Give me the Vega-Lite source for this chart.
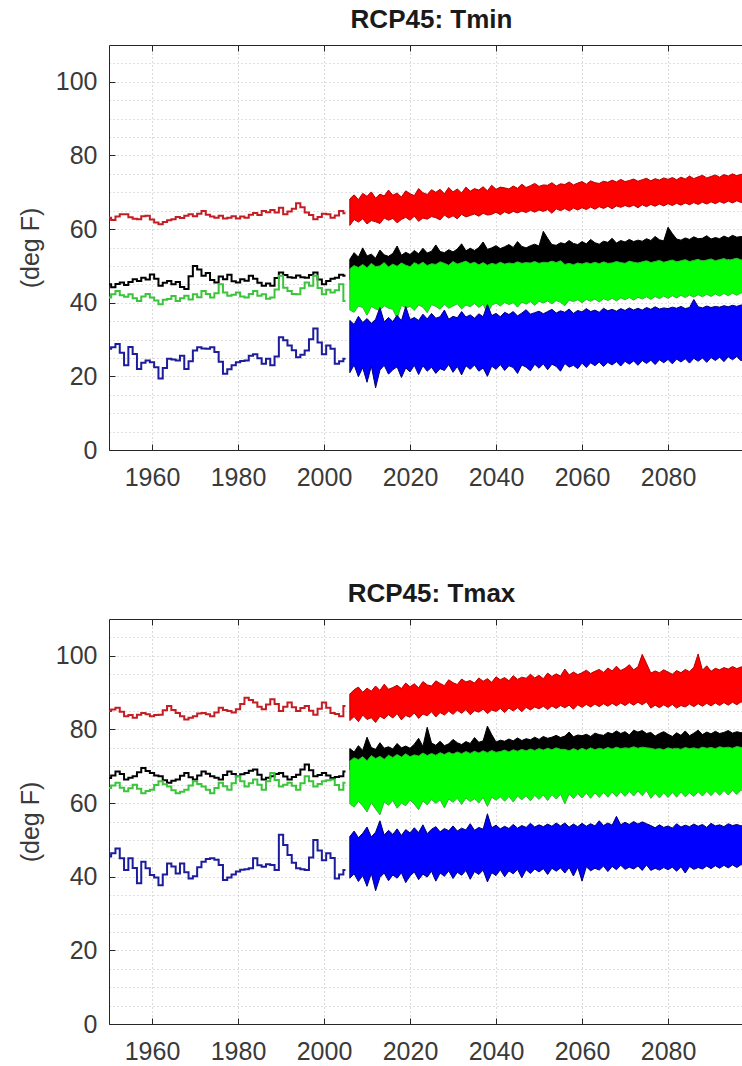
{
"$schema": "https://vega.github.io/schema/vega-lite/v6.json",
"background": "white",
"autosize": {"type": "pad"},
"padding": {"left": 18, "top": 6, "right": 0, "bottom": 0},
"spacing": 90,
"config": {
 "view": {"stroke": null},
 "font": "Liberation Sans",
 "axis": {"labelFont": "Liberation Sans", "labelFontSize": 25, "labelColor": "#3a3a3a", "domainColor": "#262626", "tickColor": "#262626", "titleFont": "Liberation Sans", "titleFontWeight": "normal", "titleFontSize": 25, "titleColor": "#3a3a3a", "labelOverlap": false, "labelFlush": false}
},
"datasets": {
"hist": [
{"panel":"Tmin","year":1950,"red":63.1,"black":45.0,"green":41.4,"blue":27.5},
{"panel":"Tmin","year":1951,"red":62.5,"black":44.2,"green":42.3,"blue":27.9},
{"panel":"Tmin","year":1952,"red":63.4,"black":45.1,"green":43.2,"blue":28.8},
{"panel":"Tmin","year":1953,"red":64.0,"black":45.5,"green":42.0,"blue":26.4},
{"panel":"Tmin","year":1954,"red":64.0,"black":44.8,"green":41.6,"blue":23.0},
{"panel":"Tmin","year":1955,"red":63.2,"black":45.6,"green":42.3,"blue":28.0},
{"panel":"Tmin","year":1956,"red":62.8,"black":46.4,"green":41.2,"blue":26.1},
{"panel":"Tmin","year":1957,"red":62.7,"black":45.9,"green":40.5,"blue":22.0},
{"panel":"Tmin","year":1958,"red":63.5,"black":46.8,"green":41.7,"blue":23.7},
{"panel":"Tmin","year":1959,"red":63.6,"black":46.3,"green":42.4,"blue":24.3},
{"panel":"Tmin","year":1960,"red":62.6,"black":47.7,"green":41.4,"blue":23.8},
{"panel":"Tmin","year":1961,"red":61.8,"black":46.5,"green":40.6,"blue":22.5},
{"panel":"Tmin","year":1962,"red":61.3,"black":44.6,"green":39.6,"blue":19.4},
{"panel":"Tmin","year":1963,"red":61.9,"black":45.4,"green":40.8,"blue":22.3},
{"panel":"Tmin","year":1964,"red":62.4,"black":45.9,"green":41.0,"blue":24.8},
{"panel":"Tmin","year":1965,"red":62.7,"black":45.0,"green":41.8,"blue":24.6},
{"panel":"Tmin","year":1966,"red":63.3,"black":45.6,"green":40.5,"blue":24.3},
{"panel":"Tmin","year":1967,"red":63.0,"black":44.3,"green":41.2,"blue":25.6},
{"panel":"Tmin","year":1968,"red":63.6,"black":43.7,"green":41.9,"blue":22.0},
{"panel":"Tmin","year":1969,"red":64.0,"black":47.2,"green":40.9,"blue":24.1},
{"panel":"Tmin","year":1970,"red":63.5,"black":50.0,"green":42.3,"blue":27.0},
{"panel":"Tmin","year":1971,"red":64.2,"black":49.0,"green":41.5,"blue":27.9},
{"panel":"Tmin","year":1972,"red":64.9,"black":47.3,"green":43.2,"blue":27.6},
{"panel":"Tmin","year":1973,"red":63.9,"black":48.1,"green":42.4,"blue":27.5},
{"panel":"Tmin","year":1974,"red":63.4,"black":46.2,"green":41.4,"blue":27.9},
{"panel":"Tmin","year":1975,"red":63.1,"black":45.5,"green":42.6,"blue":26.6},
{"panel":"Tmin","year":1976,"red":63.6,"black":47.1,"green":45.0,"blue":24.0},
{"panel":"Tmin","year":1977,"red":62.9,"black":46.4,"green":42.8,"blue":20.7},
{"panel":"Tmin","year":1978,"red":63.1,"black":47.6,"green":41.9,"blue":21.9},
{"panel":"Tmin","year":1979,"red":63.5,"black":45.8,"green":42.2,"blue":23.0},
{"panel":"Tmin","year":1980,"red":62.9,"black":45.5,"green":42.8,"blue":23.8},
{"panel":"Tmin","year":1981,"red":63.4,"black":46.4,"green":41.7,"blue":24.2},
{"panel":"Tmin","year":1982,"red":63.1,"black":46.0,"green":41.4,"blue":24.3},
{"panel":"Tmin","year":1983,"red":63.9,"black":47.3,"green":42.4,"blue":25.6},
{"panel":"Tmin","year":1984,"red":64.4,"black":46.5,"green":43.2,"blue":26.0},
{"panel":"Tmin","year":1985,"red":63.8,"black":45.4,"green":41.9,"blue":24.9},
{"panel":"Tmin","year":1986,"red":64.9,"black":44.6,"green":42.3,"blue":23.4},
{"panel":"Tmin","year":1987,"red":64.6,"black":45.2,"green":41.1,"blue":24.8},
{"panel":"Tmin","year":1988,"red":65.2,"black":44.6,"green":41.4,"blue":23.0},
{"panel":"Tmin","year":1989,"red":64.5,"black":46.7,"green":43.6,"blue":25.4},
{"panel":"Tmin","year":1990,"red":65.8,"black":48.2,"green":47.3,"blue":30.6},
{"panel":"Tmin","year":1991,"red":64.0,"black":47.5,"green":44.1,"blue":29.8},
{"panel":"Tmin","year":1992,"red":64.8,"black":46.9,"green":43.2,"blue":28.4},
{"panel":"Tmin","year":1993,"red":65.5,"black":46.8,"green":42.4,"blue":27.1},
{"panel":"Tmin","year":1994,"red":67.0,"black":47.4,"green":42.3,"blue":25.2},
{"panel":"Tmin","year":1995,"red":65.9,"black":46.9,"green":43.9,"blue":25.9},
{"panel":"Tmin","year":1996,"red":64.5,"black":46.8,"green":45.5,"blue":27.0},
{"panel":"Tmin","year":1997,"red":63.8,"black":47.5,"green":44.6,"blue":30.1},
{"panel":"Tmin","year":1998,"red":62.7,"black":48.2,"green":47.3,"blue":33.0},
{"panel":"Tmin","year":1999,"red":63.3,"black":46.3,"green":44.0,"blue":29.2},
{"panel":"Tmin","year":2000,"red":64.2,"black":45.0,"green":42.3,"blue":26.0},
{"panel":"Tmin","year":2001,"red":64.0,"black":45.9,"green":43.5,"blue":28.4},
{"panel":"Tmin","year":2002,"red":63.1,"black":46.5,"green":42.8,"blue":27.5},
{"panel":"Tmin","year":2003,"red":63.7,"black":46.8,"green":43.4,"blue":23.4},
{"panel":"Tmin","year":2004,"red":64.9,"black":47.6,"green":45.0,"blue":24.1},
{"panel":"Tmin","year":2005,"red":64.3,"black":47.3,"green":40.5,"blue":24.8},
{"panel":"Tmax","year":1950,"red":85.0,"black":66.8,"green":64.1,"blue":45.5},
{"panel":"Tmax","year":1951,"red":85.4,"black":67.5,"green":64.8,"blue":46.4},
{"panel":"Tmax","year":1952,"red":85.9,"black":68.6,"green":65.5,"blue":47.7},
{"panel":"Tmax","year":1953,"red":84.8,"black":67.9,"green":64.2,"blue":45.0},
{"panel":"Tmax","year":1954,"red":83.6,"black":66.4,"green":63.2,"blue":41.8},
{"panel":"Tmax","year":1955,"red":83.9,"black":66.9,"green":64.0,"blue":45.0},
{"panel":"Tmax","year":1956,"red":83.2,"black":67.3,"green":65.0,"blue":42.4},
{"panel":"Tmax","year":1957,"red":84.0,"black":68.4,"green":63.9,"blue":38.2},
{"panel":"Tmax","year":1958,"red":84.5,"black":69.5,"green":62.7,"blue":44.1},
{"panel":"Tmax","year":1959,"red":84.1,"black":68.7,"green":63.3,"blue":42.3},
{"panel":"Tmax","year":1960,"red":83.6,"black":68.2,"green":63.6,"blue":40.5},
{"panel":"Tmax","year":1961,"red":83.9,"black":67.5,"green":64.9,"blue":39.8},
{"panel":"Tmax","year":1962,"red":84.0,"black":67.3,"green":65.9,"blue":37.7},
{"panel":"Tmax","year":1963,"red":85.2,"black":66.2,"green":65.1,"blue":40.6},
{"panel":"Tmax","year":1964,"red":86.4,"black":65.5,"green":64.5,"blue":43.6},
{"panel":"Tmax","year":1965,"red":85.3,"black":66.1,"green":63.5,"blue":42.8},
{"panel":"Tmax","year":1966,"red":84.5,"black":66.4,"green":62.7,"blue":40.9},
{"panel":"Tmax","year":1967,"red":83.6,"black":67.4,"green":63.1,"blue":43.6},
{"panel":"Tmax","year":1968,"red":82.7,"black":68.2,"green":63.6,"blue":41.2},
{"panel":"Tmax","year":1969,"red":83.2,"black":67.0,"green":64.8,"blue":39.5},
{"panel":"Tmax","year":1970,"red":83.6,"black":66.4,"green":65.9,"blue":40.1},
{"panel":"Tmax","year":1971,"red":84.3,"black":67.5,"green":65.2,"blue":42.6},
{"panel":"Tmax","year":1972,"red":84.5,"black":68.6,"green":64.5,"blue":44.1},
{"panel":"Tmax","year":1973,"red":84.1,"black":68.0,"green":63.6,"blue":44.8},
{"panel":"Tmax","year":1974,"red":83.6,"black":67.3,"green":62.7,"blue":45.0},
{"panel":"Tmax","year":1975,"red":84.6,"black":66.9,"green":64.1,"blue":44.6},
{"panel":"Tmax","year":1976,"red":85.9,"black":66.4,"green":65.5,"blue":43.2},
{"panel":"Tmax","year":1977,"red":85.3,"black":67.6,"green":64.6,"blue":39.1},
{"panel":"Tmax","year":1978,"red":85.0,"black":68.6,"green":63.6,"blue":39.8},
{"panel":"Tmax","year":1979,"red":84.6,"black":67.9,"green":65.4,"blue":40.6},
{"panel":"Tmax","year":1980,"red":85.5,"black":67.3,"green":67.3,"blue":41.4},
{"panel":"Tmax","year":1981,"red":86.9,"black":67.8,"green":65.9,"blue":41.9},
{"panel":"Tmax","year":1982,"red":88.6,"black":68.2,"green":64.5,"blue":42.0},
{"panel":"Tmax","year":1983,"red":88.0,"black":68.8,"green":65.4,"blue":42.3},
{"panel":"Tmax","year":1984,"red":87.3,"black":69.1,"green":66.4,"blue":45.0},
{"panel":"Tmax","year":1985,"red":86.2,"black":67.7,"green":65.0,"blue":43.1},
{"panel":"Tmax","year":1986,"red":85.5,"black":66.4,"green":63.6,"blue":42.7},
{"panel":"Tmax","year":1987,"red":86.8,"black":66.9,"green":65.9,"blue":43.4},
{"panel":"Tmax","year":1988,"red":88.2,"black":67.3,"green":68.2,"blue":43.2},
{"panel":"Tmax","year":1989,"red":86.9,"black":67.9,"green":66.3,"blue":41.8},
{"panel":"Tmax","year":1990,"red":85.0,"black":68.2,"green":64.5,"blue":51.4},
{"panel":"Tmax","year":1991,"red":86.2,"black":67.2,"green":65.0,"blue":48.6},
{"panel":"Tmax","year":1992,"red":87.3,"black":66.4,"green":65.5,"blue":45.9},
{"panel":"Tmax","year":1993,"red":86.0,"black":67.1,"green":64.7,"blue":43.8},
{"panel":"Tmax","year":1994,"red":85.0,"black":67.7,"green":63.6,"blue":42.3},
{"panel":"Tmax","year":1995,"red":85.8,"black":69.1,"green":65.4,"blue":42.0},
{"panel":"Tmax","year":1996,"red":86.4,"black":70.5,"green":67.3,"blue":41.8},
{"panel":"Tmax","year":1997,"red":85.1,"black":68.9,"green":65.9,"blue":45.2},
{"panel":"Tmax","year":1998,"red":84.0,"black":67.3,"green":64.5,"blue":50.0},
{"panel":"Tmax","year":1999,"red":85.6,"black":67.6,"green":65.2,"blue":47.1},
{"panel":"Tmax","year":2000,"red":87.3,"black":68.2,"green":65.9,"blue":44.5},
{"panel":"Tmax","year":2001,"red":85.9,"black":67.5,"green":66.2,"blue":46.4},
{"panel":"Tmax","year":2002,"red":84.5,"black":66.8,"green":66.4,"blue":45.1},
{"panel":"Tmax","year":2003,"red":84.2,"black":67.1,"green":64.9,"blue":39.5},
{"panel":"Tmax","year":2004,"red":83.6,"black":67.3,"green":63.6,"blue":40.6},
{"panel":"Tmax","year":2005,"red":86.4,"black":68.6,"green":65.5,"blue":41.8}
],
"fut": [
{"panel":"Tmin","year":2006,"rlo":61.0,"rhi":68.2,"klo":46.3,"khi":51.8,"glo":38.0,"ghi":49.2,"blo":21.0,"bhi":35.2},
{"panel":"Tmin","year":2007,"rlo":62.6,"rhi":69.3,"klo":46.9,"khi":53.6,"glo":37.4,"ghi":50.1,"blo":23.1,"bhi":34.1},
{"panel":"Tmin","year":2008,"rlo":61.9,"rhi":68.0,"klo":46.5,"khi":52.4,"glo":39.1,"ghi":49.6,"blo":19.9,"bhi":36.3},
{"panel":"Tmin","year":2009,"rlo":62.8,"rhi":69.7,"klo":47.2,"khi":54.9,"glo":38.7,"ghi":50.4,"blo":22.4,"bhi":34.6},
{"panel":"Tmin","year":2010,"rlo":61.4,"rhi":68.9,"klo":46.0,"khi":52.7,"glo":36.6,"ghi":49.5,"blo":18.4,"bhi":35.7},
{"panel":"Tmin","year":2011,"rlo":62.3,"rhi":70.1,"klo":46.8,"khi":53.2,"glo":39.0,"ghi":50.7,"blo":22.8,"bhi":34.4},
{"panel":"Tmin","year":2012,"rlo":62.0,"rhi":68.4,"klo":46.6,"khi":52.1,"glo":38.3,"ghi":49.8,"blo":16.9,"bhi":35.5},
{"panel":"Tmin","year":2013,"rlo":61.5,"rhi":69.5,"klo":47.4,"khi":54.3,"glo":37.9,"ghi":50.0,"blo":21.7,"bhi":38.7},
{"panel":"Tmin","year":2014,"rlo":63.0,"rhi":69.0,"klo":46.7,"khi":53.0,"glo":39.2,"ghi":50.9,"blo":23.0,"bhi":34.8},
{"panel":"Tmin","year":2015,"rlo":62.4,"rhi":70.6,"klo":47.0,"khi":52.6,"glo":38.5,"ghi":49.7,"blo":20.6,"bhi":36.0},
{"panel":"Tmin","year":2016,"rlo":62.9,"rhi":69.2,"klo":46.9,"khi":53.4,"glo":38.2,"ghi":50.5,"blo":21.8,"bhi":34.9},
{"panel":"Tmin","year":2017,"rlo":61.7,"rhi":69.8,"klo":47.3,"khi":55.4,"glo":35.7,"ghi":49.9,"blo":22.6,"bhi":36.6},
{"panel":"Tmin","year":2018,"rlo":62.6,"rhi":68.7,"klo":46.8,"khi":52.9,"glo":39.3,"ghi":50.8,"blo":19.7,"bhi":35.1},
{"panel":"Tmin","year":2019,"rlo":63.2,"rhi":70.4,"klo":47.5,"khi":53.7,"glo":38.6,"ghi":50.2,"blo":22.3,"bhi":39.0},
{"panel":"Tmin","year":2020,"rlo":62.4,"rhi":69.6,"klo":47.1,"khi":53.1,"glo":39.0,"ghi":49.8,"blo":21.2,"bhi":35.4},
{"panel":"Tmin","year":2021,"rlo":63.5,"rhi":69.1,"klo":47.8,"khi":54.2,"glo":37.9,"ghi":50.9,"blo":23.0,"bhi":36.0},
{"panel":"Tmin","year":2022,"rlo":62.1,"rhi":71.0,"klo":47.2,"khi":53.3,"glo":39.4,"ghi":50.3,"blo":20.5,"bhi":35.2},
{"panel":"Tmin","year":2023,"rlo":63.0,"rhi":69.9,"klo":47.6,"khi":54.8,"glo":38.8,"ghi":51.0,"blo":22.9,"bhi":36.9},
{"panel":"Tmin","year":2024,"rlo":62.7,"rhi":69.4,"klo":47.0,"khi":53.5,"glo":37.3,"ghi":50.1,"blo":21.4,"bhi":35.6},
{"panel":"Tmin","year":2025,"rlo":63.4,"rhi":70.7,"klo":47.9,"khi":54.0,"glo":39.5,"ghi":50.6,"blo":22.5,"bhi":37.1},
{"panel":"Tmin","year":2026,"rlo":63.1,"rhi":70.0,"klo":47.5,"khi":55.7,"glo":39.0,"ghi":50.4,"blo":20.8,"bhi":35.8},
{"panel":"Tmin","year":2027,"rlo":62.5,"rhi":70.8,"klo":48.0,"khi":53.9,"glo":38.2,"ghi":51.1,"blo":22.1,"bhi":36.2},
{"panel":"Tmin","year":2028,"rlo":63.8,"rhi":69.6,"klo":47.6,"khi":53.6,"glo":39.6,"ghi":50.7,"blo":21.6,"bhi":38.0},
{"panel":"Tmin","year":2029,"rlo":63.0,"rhi":71.3,"klo":48.2,"khi":54.4,"glo":38.5,"ghi":50.2,"blo":23.2,"bhi":35.5},
{"panel":"Tmin","year":2030,"rlo":63.6,"rhi":70.1,"klo":47.7,"khi":53.8,"glo":39.1,"ghi":51.2,"blo":21.1,"bhi":36.3},
{"panel":"Tmin","year":2031,"rlo":62.8,"rhi":70.9,"klo":48.4,"khi":54.6,"glo":39.7,"ghi":50.5,"blo":22.7,"bhi":35.9},
{"panel":"Tmin","year":2032,"rlo":64.0,"rhi":69.8,"klo":47.9,"khi":56.0,"glo":38.3,"ghi":50.9,"blo":20.4,"bhi":37.6},
{"panel":"Tmin","year":2033,"rlo":63.3,"rhi":71.4,"klo":48.3,"khi":54.1,"glo":39.4,"ghi":51.3,"blo":22.9,"bhi":36.1},
{"panel":"Tmin","year":2034,"rlo":63.7,"rhi":70.3,"klo":48.6,"khi":54.8,"glo":38.9,"ghi":50.6,"blo":21.9,"bhi":36.7},
{"panel":"Tmin","year":2035,"rlo":64.1,"rhi":71.0,"klo":48.1,"khi":54.2,"glo":39.8,"ghi":51.0,"blo":23.1,"bhi":35.8},
{"panel":"Tmin","year":2036,"rlo":63.5,"rhi":70.6,"klo":48.7,"khi":55.0,"glo":38.7,"ghi":50.3,"blo":21.4,"bhi":37.0},
{"panel":"Tmin","year":2037,"rlo":64.3,"rhi":71.5,"klo":48.3,"khi":56.5,"glo":39.6,"ghi":50.9,"blo":22.3,"bhi":36.2},
{"panel":"Tmin","year":2038,"rlo":63.8,"rhi":70.4,"klo":48.8,"khi":54.5,"glo":37.0,"ghi":50.2,"blo":20.0,"bhi":39.5},
{"panel":"Tmin","year":2039,"rlo":64.0,"rhi":71.9,"klo":48.5,"khi":54.9,"glo":39.3,"ghi":50.7,"blo":22.8,"bhi":36.5},
{"panel":"Tmin","year":2040,"rlo":64.6,"rhi":70.8,"klo":49.0,"khi":55.5,"glo":39.9,"ghi":50.4,"blo":21.9,"bhi":37.1},
{"panel":"Tmin","year":2041,"rlo":63.9,"rhi":71.4,"klo":48.6,"khi":54.7,"glo":39.1,"ghi":51.0,"blo":23.2,"bhi":36.2},
{"panel":"Tmin","year":2042,"rlo":64.7,"rhi":71.2,"klo":49.1,"khi":55.2,"glo":40.1,"ghi":50.5,"blo":21.6,"bhi":37.4},
{"panel":"Tmin","year":2043,"rlo":64.2,"rhi":70.9,"klo":48.7,"khi":55.8,"glo":39.5,"ghi":50.8,"blo":22.9,"bhi":36.8},
{"panel":"Tmin","year":2044,"rlo":64.8,"rhi":71.7,"klo":49.2,"khi":55.0,"glo":40.0,"ghi":50.6,"blo":22.4,"bhi":37.6},
{"panel":"Tmin","year":2045,"rlo":64.4,"rhi":71.1,"klo":48.9,"khi":56.6,"glo":38.8,"ghi":51.1,"blo":20.8,"bhi":36.4},
{"panel":"Tmin","year":2046,"rlo":64.9,"rhi":72.2,"klo":49.3,"khi":55.3,"glo":40.2,"ghi":50.7,"blo":23.1,"bhi":37.2},
{"panel":"Tmin","year":2047,"rlo":64.5,"rhi":71.3,"klo":49.0,"khi":54.9,"glo":39.6,"ghi":50.9,"blo":22.5,"bhi":38.1},
{"panel":"Tmin","year":2048,"rlo":65.1,"rhi":71.8,"klo":49.4,"khi":55.5,"glo":40.3,"ghi":50.8,"blo":21.5,"bhi":36.9},
{"panel":"Tmin","year":2049,"rlo":64.6,"rhi":72.4,"klo":49.1,"khi":55.9,"glo":39.3,"ghi":51.2,"blo":23.3,"bhi":37.3},
{"panel":"Tmin","year":2050,"rlo":65.2,"rhi":71.6,"klo":49.6,"khi":55.4,"glo":40.4,"ghi":50.7,"blo":22.2,"bhi":37.7},
{"panel":"Tmin","year":2051,"rlo":64.8,"rhi":72.0,"klo":49.2,"khi":59.4,"glo":39.9,"ghi":51.0,"blo":23.4,"bhi":37.0},
{"panel":"Tmin","year":2052,"rlo":65.3,"rhi":71.9,"klo":49.7,"khi":57.5,"glo":40.5,"ghi":50.9,"blo":21.8,"bhi":37.6},
{"panel":"Tmin","year":2053,"rlo":64.3,"rhi":72.6,"klo":49.4,"khi":55.8,"glo":39.7,"ghi":51.3,"blo":23.3,"bhi":38.2},
{"panel":"Tmin","year":2054,"rlo":65.5,"rhi":71.7,"klo":49.8,"khi":55.6,"glo":40.6,"ghi":50.9,"blo":22.7,"bhi":37.2},
{"panel":"Tmin","year":2055,"rlo":65.0,"rhi":72.3,"klo":49.5,"khi":56.3,"glo":40.1,"ghi":51.4,"blo":21.4,"bhi":37.8},
{"panel":"Tmin","year":2056,"rlo":65.6,"rhi":72.1,"klo":50.0,"khi":56.0,"glo":39.2,"ghi":50.4,"blo":23.5,"bhi":37.4},
{"panel":"Tmin","year":2057,"rlo":64.9,"rhi":72.8,"klo":49.6,"khi":56.9,"glo":40.7,"ghi":50.7,"blo":22.5,"bhi":38.3},
{"panel":"Tmin","year":2058,"rlo":65.7,"rhi":72.0,"klo":50.1,"khi":56.1,"glo":40.3,"ghi":50.3,"blo":23.0,"bhi":37.1},
{"panel":"Tmin","year":2059,"rlo":65.2,"rhi":72.5,"klo":49.8,"khi":55.8,"glo":40.8,"ghi":50.8,"blo":22.1,"bhi":37.9},
{"panel":"Tmin","year":2060,"rlo":65.8,"rhi":72.9,"klo":50.2,"khi":56.6,"glo":40.0,"ghi":50.5,"blo":23.6,"bhi":37.5},
{"panel":"Tmin","year":2061,"rlo":65.3,"rhi":72.2,"klo":49.9,"khi":56.0,"glo":40.9,"ghi":50.9,"blo":22.4,"bhi":38.4},
{"panel":"Tmin","year":2062,"rlo":66.0,"rhi":73.1,"klo":50.3,"khi":57.2,"glo":40.4,"ghi":50.6,"blo":23.7,"bhi":37.6},
{"panel":"Tmin","year":2063,"rlo":65.4,"rhi":72.6,"klo":50.0,"khi":56.3,"glo":41.0,"ghi":51.0,"blo":22.9,"bhi":38.0},
{"panel":"Tmin","year":2064,"rlo":66.1,"rhi":72.4,"klo":50.4,"khi":55.9,"glo":40.2,"ghi":50.6,"blo":23.9,"bhi":37.4},
{"panel":"Tmin","year":2065,"rlo":65.6,"rhi":73.0,"klo":50.1,"khi":56.7,"glo":41.1,"ghi":51.1,"blo":22.7,"bhi":38.5},
{"panel":"Tmin","year":2066,"rlo":66.2,"rhi":72.7,"klo":50.5,"khi":56.4,"glo":40.6,"ghi":50.7,"blo":23.8,"bhi":37.8},
{"panel":"Tmin","year":2067,"rlo":65.5,"rhi":73.3,"klo":50.2,"khi":57.5,"glo":41.2,"ghi":50.8,"blo":23.1,"bhi":38.2},
{"panel":"Tmin","year":2068,"rlo":66.3,"rhi":72.8,"klo":50.6,"khi":56.2,"glo":40.5,"ghi":51.2,"blo":24.0,"bhi":37.7},
{"panel":"Tmin","year":2069,"rlo":65.9,"rhi":73.5,"klo":50.3,"khi":56.9,"glo":41.3,"ghi":50.9,"blo":22.8,"bhi":38.4},
{"panel":"Tmin","year":2070,"rlo":66.4,"rhi":72.9,"klo":50.7,"khi":56.5,"glo":40.8,"ghi":50.7,"blo":24.1,"bhi":37.9},
{"panel":"Tmin","year":2071,"rlo":66.0,"rhi":73.2,"klo":50.4,"khi":57.2,"glo":41.4,"ghi":51.3,"blo":23.3,"bhi":38.6},
{"panel":"Tmin","year":2072,"rlo":66.5,"rhi":73.6,"klo":50.8,"khi":56.6,"glo":40.7,"ghi":51.0,"blo":24.2,"bhi":38.0},
{"panel":"Tmin","year":2073,"rlo":65.8,"rhi":73.0,"klo":50.5,"khi":57.0,"glo":41.5,"ghi":50.8,"blo":23.0,"bhi":38.5},
{"panel":"Tmin","year":2074,"rlo":66.6,"rhi":73.4,"klo":50.9,"khi":56.7,"glo":41.0,"ghi":51.1,"blo":24.3,"bhi":38.0},
{"panel":"Tmin","year":2075,"rlo":66.1,"rhi":73.8,"klo":50.6,"khi":57.4,"glo":41.6,"ghi":51.4,"blo":23.5,"bhi":38.7},
{"panel":"Tmin","year":2076,"rlo":66.7,"rhi":73.1,"klo":51.0,"khi":56.9,"glo":40.9,"ghi":50.9,"blo":24.4,"bhi":38.2},
{"panel":"Tmin","year":2077,"rlo":66.2,"rhi":73.7,"klo":50.7,"khi":58.0,"glo":41.7,"ghi":51.2,"blo":23.2,"bhi":38.9},
{"panel":"Tmin","year":2078,"rlo":66.8,"rhi":73.3,"klo":51.1,"khi":57.1,"glo":41.1,"ghi":51.5,"blo":24.5,"bhi":38.3},
{"panel":"Tmin","year":2079,"rlo":66.3,"rhi":73.9,"klo":50.8,"khi":56.8,"glo":41.8,"ghi":51.0,"blo":23.7,"bhi":38.6},
{"panel":"Tmin","year":2080,"rlo":66.9,"rhi":73.5,"klo":51.2,"khi":60.5,"glo":41.2,"ghi":51.3,"blo":24.6,"bhi":38.4},
{"panel":"Tmin","year":2081,"rlo":66.4,"rhi":74.0,"klo":50.9,"khi":58.8,"glo":41.9,"ghi":51.6,"blo":23.4,"bhi":38.8},
{"panel":"Tmin","year":2082,"rlo":67.0,"rhi":73.4,"klo":51.3,"khi":57.3,"glo":41.3,"ghi":51.1,"blo":24.7,"bhi":38.5},
{"panel":"Tmin","year":2083,"rlo":66.5,"rhi":74.1,"klo":51.0,"khi":57.0,"glo":42.0,"ghi":51.4,"blo":23.9,"bhi":39.0},
{"panel":"Tmin","year":2084,"rlo":67.1,"rhi":73.6,"klo":51.4,"khi":57.6,"glo":41.4,"ghi":51.7,"blo":24.8,"bhi":38.4},
{"panel":"Tmin","year":2085,"rlo":66.6,"rhi":74.4,"klo":51.1,"khi":57.2,"glo":42.1,"ghi":51.2,"blo":23.6,"bhi":38.7},
{"panel":"Tmin","year":2086,"rlo":67.2,"rhi":73.7,"klo":51.5,"khi":57.9,"glo":41.5,"ghi":51.5,"blo":24.9,"bhi":40.9},
{"panel":"Tmin","year":2087,"rlo":66.7,"rhi":74.2,"klo":51.2,"khi":57.4,"glo":42.2,"ghi":51.8,"blo":24.1,"bhi":38.9},
{"panel":"Tmin","year":2088,"rlo":67.3,"rhi":74.6,"klo":51.6,"khi":57.5,"glo":41.6,"ghi":51.3,"blo":25.0,"bhi":38.6},
{"panel":"Tmin","year":2089,"rlo":66.8,"rhi":73.9,"klo":51.3,"khi":58.2,"glo":42.3,"ghi":51.6,"blo":23.8,"bhi":39.1},
{"panel":"Tmin","year":2090,"rlo":67.4,"rhi":74.3,"klo":51.7,"khi":57.3,"glo":41.7,"ghi":51.9,"blo":25.1,"bhi":38.7},
{"panel":"Tmin","year":2091,"rlo":66.9,"rhi":74.7,"klo":51.4,"khi":57.7,"glo":42.4,"ghi":51.4,"blo":24.3,"bhi":39.0},
{"panel":"Tmin","year":2092,"rlo":67.5,"rhi":74.1,"klo":51.8,"khi":57.4,"glo":41.8,"ghi":51.7,"blo":25.2,"bhi":38.8},
{"panel":"Tmin","year":2093,"rlo":67.0,"rhi":74.8,"klo":51.5,"khi":58.1,"glo":42.5,"ghi":52.0,"blo":24.0,"bhi":39.2},
{"panel":"Tmin","year":2094,"rlo":67.6,"rhi":74.4,"klo":51.9,"khi":57.6,"glo":41.9,"ghi":51.5,"blo":25.3,"bhi":38.9},
{"panel":"Tmin","year":2095,"rlo":67.1,"rhi":75.0,"klo":51.6,"khi":58.3,"glo":42.6,"ghi":51.8,"blo":24.5,"bhi":39.3},
{"panel":"Tmin","year":2096,"rlo":67.7,"rhi":74.5,"klo":52.0,"khi":57.8,"glo":42.0,"ghi":52.1,"blo":25.4,"bhi":39.0},
{"panel":"Tmin","year":2097,"rlo":67.2,"rhi":74.9,"klo":51.7,"khi":58.0,"glo":42.7,"ghi":51.6,"blo":24.2,"bhi":39.4},
{"panel":"Tmin","year":2098,"rlo":67.8,"rhi":74.6,"klo":52.1,"khi":57.7,"glo":42.1,"ghi":51.9,"blo":25.5,"bhi":39.1},
{"panel":"Tmin","year":2099,"rlo":67.3,"rhi":75.1,"klo":51.8,"khi":58.4,"glo":42.8,"ghi":52.2,"blo":24.6,"bhi":39.5},
{"panel":"Tmin","year":2100,"rlo":67.9,"rhi":74.7,"klo":52.2,"khi":57.9,"glo":42.2,"ghi":51.7,"blo":25.6,"bhi":39.2},
{"panel":"Tmax","year":2006,"rlo":82.4,"rhi":89.6,"klo":69.0,"khi":74.8,"glo":59.8,"ghi":71.4,"blo":39.6,"bhi":50.9},
{"panel":"Tmax","year":2007,"rlo":83.5,"rhi":90.8,"klo":69.6,"khi":73.9,"glo":58.9,"ghi":72.3,"blo":40.8,"bhi":52.4},
{"panel":"Tmax","year":2008,"rlo":82.1,"rhi":91.5,"klo":68.8,"khi":75.6,"glo":60.5,"ghi":71.8,"blo":38.7,"bhi":50.6},
{"panel":"Tmax","year":2009,"rlo":83.9,"rhi":90.1,"klo":69.4,"khi":74.3,"glo":59.2,"ghi":72.6,"blo":40.3,"bhi":51.8},
{"panel":"Tmax","year":2010,"rlo":82.7,"rhi":91.2,"klo":69.1,"khi":77.9,"glo":57.6,"ghi":71.5,"blo":37.4,"bhi":53.5},
{"panel":"Tmax","year":2011,"rlo":83.2,"rhi":90.4,"klo":69.8,"khi":75.1,"glo":60.1,"ghi":72.9,"blo":40.9,"bhi":50.8},
{"panel":"Tmax","year":2012,"rlo":81.9,"rhi":91.8,"klo":69.3,"khi":74.6,"glo":58.4,"ghi":72.1,"blo":36.2,"bhi":52.1},
{"panel":"Tmax","year":2013,"rlo":83.6,"rhi":90.6,"klo":70.0,"khi":76.4,"glo":56.8,"ghi":72.7,"blo":39.8,"bhi":55.2},
{"panel":"Tmax","year":2014,"rlo":82.9,"rhi":92.3,"klo":69.5,"khi":74.9,"glo":60.3,"ghi":71.9,"blo":41.0,"bhi":51.3},
{"panel":"Tmax","year":2015,"rlo":84.0,"rhi":90.9,"klo":70.2,"khi":75.3,"glo":59.4,"ghi":73.0,"blo":38.9,"bhi":52.6},
{"panel":"Tmax","year":2016,"rlo":83.1,"rhi":91.4,"klo":69.7,"khi":74.7,"glo":60.7,"ghi":72.4,"blo":40.5,"bhi":51.5},
{"panel":"Tmax","year":2017,"rlo":84.3,"rhi":92.0,"klo":70.4,"khi":76.2,"glo":58.6,"ghi":73.2,"blo":39.6,"bhi":53.0},
{"panel":"Tmax","year":2018,"rlo":82.6,"rhi":91.1,"klo":69.9,"khi":75.0,"glo":60.0,"ghi":72.5,"blo":41.1,"bhi":51.2},
{"panel":"Tmax","year":2019,"rlo":83.8,"rhi":92.6,"klo":70.5,"khi":75.5,"glo":59.3,"ghi":73.4,"blo":38.4,"bhi":52.8},
{"panel":"Tmax","year":2020,"rlo":83.3,"rhi":91.6,"klo":70.1,"khi":74.9,"glo":60.8,"ghi":72.6,"blo":40.2,"bhi":51.9},
{"panel":"Tmax","year":2021,"rlo":84.5,"rhi":92.4,"klo":70.7,"khi":76.0,"glo":59.7,"ghi":73.1,"blo":41.3,"bhi":53.3},
{"panel":"Tmax","year":2022,"rlo":83.0,"rhi":91.3,"klo":70.3,"khi":77.6,"glo":58.2,"ghi":72.8,"blo":39.2,"bhi":52.0},
{"panel":"Tmax","year":2023,"rlo":84.2,"rhi":93.0,"klo":70.8,"khi":75.4,"glo":60.6,"ghi":73.6,"blo":40.7,"bhi":54.1},
{"panel":"Tmax","year":2024,"rlo":83.7,"rhi":92.1,"klo":70.4,"khi":80.6,"glo":59.5,"ghi":72.9,"blo":39.9,"bhi":51.7},
{"panel":"Tmax","year":2025,"rlo":84.8,"rhi":91.8,"klo":71.0,"khi":76.3,"glo":61.0,"ghi":73.5,"blo":41.5,"bhi":52.9},
{"panel":"Tmax","year":2026,"rlo":83.4,"rhi":93.2,"klo":70.6,"khi":75.7,"glo":59.9,"ghi":73.0,"blo":38.8,"bhi":53.6},
{"panel":"Tmax","year":2027,"rlo":84.6,"rhi":92.5,"klo":71.1,"khi":76.8,"glo":60.9,"ghi":73.7,"blo":41.0,"bhi":52.2},
{"panel":"Tmax","year":2028,"rlo":83.9,"rhi":91.9,"klo":70.7,"khi":75.6,"glo":58.7,"ghi":73.2,"blo":40.1,"bhi":53.1},
{"panel":"Tmax","year":2029,"rlo":85.0,"rhi":93.5,"klo":71.2,"khi":76.1,"glo":61.1,"ghi":73.8,"blo":41.6,"bhi":52.5},
{"panel":"Tmax","year":2030,"rlo":84.1,"rhi":92.7,"klo":70.9,"khi":77.3,"glo":60.2,"ghi":73.3,"blo":39.5,"bhi":53.8},
{"panel":"Tmax","year":2031,"rlo":85.2,"rhi":92.2,"klo":71.4,"khi":76.4,"glo":61.3,"ghi":73.9,"blo":41.2,"bhi":52.4},
{"panel":"Tmax","year":2032,"rlo":84.4,"rhi":93.7,"klo":71.0,"khi":75.9,"glo":59.6,"ghi":73.4,"blo":40.4,"bhi":53.2},
{"panel":"Tmax","year":2033,"rlo":85.4,"rhi":92.9,"klo":71.5,"khi":76.7,"glo":61.4,"ghi":74.0,"blo":41.7,"bhi":52.7},
{"panel":"Tmax","year":2034,"rlo":84.0,"rhi":93.3,"klo":71.1,"khi":76.2,"glo":60.4,"ghi":73.5,"blo":39.3,"bhi":54.4},
{"panel":"Tmax","year":2035,"rlo":85.1,"rhi":92.6,"klo":71.6,"khi":77.8,"glo":61.2,"ghi":74.1,"blo":41.4,"bhi":52.6},
{"panel":"Tmax","year":2036,"rlo":84.7,"rhi":94.0,"klo":71.2,"khi":76.5,"glo":60.0,"ghi":73.6,"blo":40.6,"bhi":53.4},
{"panel":"Tmax","year":2037,"rlo":85.5,"rhi":93.1,"klo":71.7,"khi":76.9,"glo":61.5,"ghi":74.2,"blo":41.8,"bhi":52.9},
{"panel":"Tmax","year":2038,"rlo":84.3,"rhi":93.8,"klo":71.3,"khi":80.9,"glo":59.1,"ghi":73.7,"blo":38.6,"bhi":57.1},
{"panel":"Tmax","year":2039,"rlo":85.3,"rhi":92.8,"klo":71.8,"khi":78.6,"glo":61.6,"ghi":74.3,"blo":41.1,"bhi":53.3},
{"panel":"Tmax","year":2040,"rlo":84.9,"rhi":94.3,"klo":71.4,"khi":76.6,"glo":60.8,"ghi":73.8,"blo":40.3,"bhi":54.0},
{"panel":"Tmax","year":2041,"rlo":85.7,"rhi":93.5,"klo":71.9,"khi":77.1,"glo":61.7,"ghi":74.0,"blo":41.9,"bhi":53.0},
{"panel":"Tmax","year":2042,"rlo":84.6,"rhi":94.1,"klo":71.5,"khi":76.8,"glo":60.5,"ghi":74.4,"blo":40.0,"bhi":53.7},
{"panel":"Tmax","year":2043,"rlo":85.8,"rhi":93.2,"klo":72.0,"khi":77.4,"glo":61.8,"ghi":73.9,"blo":41.6,"bhi":53.1},
{"panel":"Tmax","year":2044,"rlo":85.0,"rhi":94.6,"klo":71.6,"khi":76.9,"glo":60.3,"ghi":74.5,"blo":40.8,"bhi":54.2},
{"panel":"Tmax","year":2045,"rlo":85.9,"rhi":93.6,"klo":72.1,"khi":77.7,"glo":61.9,"ghi":74.1,"blo":42.0,"bhi":53.2},
{"panel":"Tmax","year":2046,"rlo":84.8,"rhi":94.2,"klo":71.7,"khi":77.0,"glo":60.9,"ghi":74.6,"blo":39.7,"bhi":53.9},
{"panel":"Tmax","year":2047,"rlo":86.0,"rhi":93.9,"klo":72.2,"khi":77.5,"glo":62.0,"ghi":74.2,"blo":41.9,"bhi":53.4},
{"panel":"Tmax","year":2048,"rlo":85.3,"rhi":95.0,"klo":71.8,"khi":77.2,"glo":60.6,"ghi":74.7,"blo":40.9,"bhi":54.5},
{"panel":"Tmax","year":2049,"rlo":86.1,"rhi":94.0,"klo":72.3,"khi":77.9,"glo":62.1,"ghi":74.3,"blo":42.1,"bhi":53.5},
{"panel":"Tmax","year":2050,"rlo":85.6,"rhi":94.7,"klo":71.9,"khi":77.3,"glo":61.0,"ghi":74.8,"blo":41.3,"bhi":54.1},
{"panel":"Tmax","year":2051,"rlo":86.3,"rhi":93.8,"klo":72.4,"khi":78.1,"glo":62.2,"ghi":74.4,"blo":42.2,"bhi":53.6},
{"panel":"Tmax","year":2052,"rlo":85.4,"rhi":95.3,"klo":72.0,"khi":77.6,"glo":60.7,"ghi":74.9,"blo":40.6,"bhi":54.3},
{"panel":"Tmax","year":2053,"rlo":86.4,"rhi":94.4,"klo":72.5,"khi":77.9,"glo":62.3,"ghi":74.5,"blo":42.3,"bhi":53.7},
{"panel":"Tmax","year":2054,"rlo":85.7,"rhi":95.1,"klo":72.1,"khi":78.4,"glo":61.1,"ghi":75.0,"blo":41.5,"bhi":54.6},
{"panel":"Tmax","year":2055,"rlo":86.5,"rhi":94.5,"klo":72.6,"khi":77.8,"glo":62.4,"ghi":74.6,"blo":42.4,"bhi":53.8},
{"panel":"Tmax","year":2056,"rlo":85.9,"rhi":96.4,"klo":72.2,"khi":78.2,"glo":59.8,"ghi":74.6,"blo":41.0,"bhi":54.6},
{"panel":"Tmax","year":2057,"rlo":86.6,"rhi":94.8,"klo":72.7,"khi":79.3,"glo":62.5,"ghi":74.2,"blo":42.5,"bhi":53.5},
{"panel":"Tmax","year":2058,"rlo":85.5,"rhi":95.6,"klo":72.3,"khi":78.0,"glo":61.2,"ghi":74.8,"blo":40.2,"bhi":54.3},
{"panel":"Tmax","year":2059,"rlo":86.7,"rhi":94.9,"klo":72.8,"khi":78.5,"glo":62.6,"ghi":74.3,"blo":42.6,"bhi":53.6},
{"panel":"Tmax","year":2060,"rlo":86.0,"rhi":95.4,"klo":72.4,"khi":78.3,"glo":61.4,"ghi":74.9,"blo":38.8,"bhi":54.5},
{"panel":"Tmax","year":2061,"rlo":86.8,"rhi":96.1,"klo":72.9,"khi":78.7,"glo":62.7,"ghi":74.4,"blo":42.7,"bhi":53.7},
{"panel":"Tmax","year":2062,"rlo":86.1,"rhi":95.2,"klo":72.5,"khi":78.1,"glo":61.3,"ghi":75.0,"blo":41.6,"bhi":54.4},
{"panel":"Tmax","year":2063,"rlo":86.9,"rhi":95.8,"klo":73.0,"khi":79.0,"glo":62.8,"ghi":74.5,"blo":42.3,"bhi":53.8},
{"panel":"Tmax","year":2064,"rlo":86.2,"rhi":96.3,"klo":72.6,"khi":78.6,"glo":61.5,"ghi":74.9,"blo":41.8,"bhi":55.2},
{"panel":"Tmax","year":2065,"rlo":87.0,"rhi":95.5,"klo":73.1,"khi":78.4,"glo":62.9,"ghi":74.6,"blo":42.9,"bhi":53.9},
{"panel":"Tmax","year":2066,"rlo":86.3,"rhi":96.7,"klo":72.7,"khi":79.2,"glo":61.6,"ghi":75.1,"blo":41.4,"bhi":54.6},
{"panel":"Tmax","year":2067,"rlo":87.1,"rhi":95.9,"klo":73.2,"khi":78.8,"glo":63.0,"ghi":74.7,"blo":42.8,"bhi":54.0},
{"panel":"Tmax","year":2068,"rlo":86.4,"rhi":97.2,"klo":72.8,"khi":79.6,"glo":61.7,"ghi":75.2,"blo":41.9,"bhi":56.4},
{"panel":"Tmax","year":2069,"rlo":87.2,"rhi":96.0,"klo":73.3,"khi":78.9,"glo":63.1,"ghi":74.8,"blo":43.1,"bhi":54.1},
{"panel":"Tmax","year":2070,"rlo":86.5,"rhi":96.6,"klo":72.9,"khi":79.4,"glo":61.8,"ghi":75.0,"blo":42.0,"bhi":54.8},
{"panel":"Tmax","year":2071,"rlo":87.3,"rhi":97.6,"klo":73.4,"khi":78.5,"glo":63.2,"ghi":74.9,"blo":42.6,"bhi":54.2},
{"panel":"Tmax","year":2072,"rlo":86.6,"rhi":96.2,"klo":73.0,"khi":79.8,"glo":61.9,"ghi":75.3,"blo":42.1,"bhi":55.0},
{"panel":"Tmax","year":2073,"rlo":87.4,"rhi":97.0,"klo":73.5,"khi":79.3,"glo":63.3,"ghi":74.9,"blo":42.9,"bhi":54.3},
{"panel":"Tmax","year":2074,"rlo":86.7,"rhi":100.4,"klo":73.1,"khi":79.7,"glo":62.0,"ghi":75.2,"blo":41.7,"bhi":54.9},
{"panel":"Tmax","year":2075,"rlo":87.5,"rhi":97.9,"klo":73.6,"khi":78.9,"glo":63.4,"ghi":75.0,"blo":43.2,"bhi":54.4},
{"panel":"Tmax","year":2076,"rlo":85.8,"rhi":95.3,"klo":73.2,"khi":79.2,"glo":61.3,"ghi":74.9,"blo":41.7,"bhi":53.9},
{"panel":"Tmax","year":2077,"rlo":86.6,"rhi":95.9,"klo":73.7,"khi":78.2,"glo":62.7,"ghi":74.6,"blo":42.3,"bhi":53.3},
{"panel":"Tmax","year":2078,"rlo":85.9,"rhi":95.4,"klo":73.3,"khi":78.9,"glo":61.4,"ghi":74.8,"blo":41.8,"bhi":54.1},
{"panel":"Tmax","year":2079,"rlo":86.7,"rhi":96.2,"klo":73.8,"khi":79.4,"glo":62.8,"ghi":74.5,"blo":42.5,"bhi":53.4},
{"panel":"Tmax","year":2080,"rlo":86.0,"rhi":95.6,"klo":73.4,"khi":78.7,"glo":61.5,"ghi":75.0,"blo":41.9,"bhi":53.8},
{"panel":"Tmax","year":2081,"rlo":86.8,"rhi":95.0,"klo":73.9,"khi":78.1,"glo":62.9,"ghi":74.7,"blo":42.6,"bhi":53.2},
{"panel":"Tmax","year":2082,"rlo":85.8,"rhi":96.0,"klo":73.5,"khi":79.1,"glo":61.6,"ghi":74.9,"blo":41.5,"bhi":54.4},
{"panel":"Tmax","year":2083,"rlo":86.5,"rhi":95.4,"klo":73.8,"khi":78.4,"glo":63.0,"ghi":74.6,"blo":42.7,"bhi":53.5},
{"panel":"Tmax","year":2084,"rlo":86.1,"rhi":96.3,"klo":73.6,"khi":79.6,"glo":61.7,"ghi":75.1,"blo":41.0,"bhi":54.0},
{"panel":"Tmax","year":2085,"rlo":86.9,"rhi":95.7,"klo":74.0,"khi":78.3,"glo":62.8,"ghi":74.8,"blo":42.8,"bhi":53.6},
{"panel":"Tmax","year":2086,"rlo":86.2,"rhi":96.9,"klo":73.7,"khi":79.0,"glo":61.8,"ghi":75.0,"blo":42.0,"bhi":54.3},
{"panel":"Tmax","year":2087,"rlo":87.0,"rhi":100.5,"klo":74.1,"khi":79.8,"glo":63.1,"ghi":74.7,"blo":42.5,"bhi":53.7},
{"panel":"Tmax","year":2088,"rlo":86.3,"rhi":96.1,"klo":73.8,"khi":78.6,"glo":61.9,"ghi":75.2,"blo":42.1,"bhi":54.2},
{"panel":"Tmax","year":2089,"rlo":87.1,"rhi":97.3,"klo":74.2,"khi":79.3,"glo":63.2,"ghi":74.9,"blo":42.9,"bhi":53.4},
{"panel":"Tmax","year":2090,"rlo":86.4,"rhi":95.8,"klo":73.9,"khi":78.8,"glo":62.0,"ghi":75.1,"blo":42.2,"bhi":54.5},
{"panel":"Tmax","year":2091,"rlo":87.2,"rhi":96.6,"klo":74.3,"khi":79.5,"glo":63.3,"ghi":74.8,"blo":43.0,"bhi":53.8},
{"panel":"Tmax","year":2092,"rlo":86.5,"rhi":96.2,"klo":74.0,"khi":78.9,"glo":62.1,"ghi":75.3,"blo":42.3,"bhi":54.1},
{"panel":"Tmax","year":2093,"rlo":87.3,"rhi":96.8,"klo":74.4,"khi":79.2,"glo":63.4,"ghi":75.0,"blo":43.1,"bhi":53.6},
{"panel":"Tmax","year":2094,"rlo":86.6,"rhi":96.4,"klo":74.1,"khi":79.7,"glo":62.2,"ghi":75.2,"blo":42.4,"bhi":54.4},
{"panel":"Tmax","year":2095,"rlo":87.4,"rhi":97.1,"klo":74.5,"khi":79.0,"glo":63.5,"ghi":74.9,"blo":43.2,"bhi":53.9},
{"panel":"Tmax","year":2096,"rlo":86.7,"rhi":96.5,"klo":74.2,"khi":79.4,"glo":62.3,"ghi":75.4,"blo":42.5,"bhi":54.2},
{"panel":"Tmax","year":2097,"rlo":87.5,"rhi":97.0,"klo":74.6,"khi":79.1,"glo":63.6,"ghi":75.1,"blo":43.3,"bhi":53.8},
{"panel":"Tmax","year":2098,"rlo":86.8,"rhi":96.7,"klo":74.3,"khi":79.6,"glo":62.4,"ghi":75.3,"blo":42.6,"bhi":54.3},
{"panel":"Tmax","year":2099,"rlo":87.6,"rhi":97.2,"klo":74.7,"khi":79.3,"glo":63.7,"ghi":75.0,"blo":43.4,"bhi":54.0},
{"panel":"Tmax","year":2100,"rlo":86.9,"rhi":96.9,"klo":74.4,"khi":79.5,"glo":62.5,"ghi":75.5,"blo":42.7,"bhi":54.4}
]
},
"vconcat": [
{
 "title": {"text": "RCP45: Tmin", "fontSize": 26, "fontWeight": "bold", "font": "Liberation Sans", "color": "#1a1a1a", "anchor": "middle", "frame": "group", "offset": 12, "dx": 6},
 "width": 633, "height": 405,
 "resolve": {"axis": {"x": "independent", "y": "independent"}},
 "layer": [
  {"data": {"name": "fut"}, "transform": [{"filter": "datum.panel == 'Tmin'"}],
   "mark": {"type": "area", "interpolate": "linear", "fill": "#ff0000", "stroke": "#b40000", "strokeWidth": 1, "clip": true},
   "encoding": {
    "x": {"field": "year", "type": "quantitative", "scale": {"domain": [1950, 2097.2], "nice": false, "zero": false},
          "axis": {"orient": "bottom", "values": [1960, 1980, 2000, 2020, 2040, 2060, 2080], "format": "d", "grid": true, "gridDash": [1, 3], "gridColor": "#b4b4b4", "tickSize": -6, "labelPadding": 21, "title": null}},
    "y": {"field": "rlo", "type": "quantitative", "scale": {"domain": [0, 110], "nice": false, "zero": false},
          "axis": {"orient": "left", "values": [0, 20, 40, 60, 80, 100], "grid": false, "tickSize": -6, "labelPadding": 18, "title": "(deg F)", "titlePadding": 12}},
    "y2": {"field": "rhi"}}},
  {"data": {"name": "fut"}, "transform": [{"filter": "datum.panel == 'Tmin'"}],
   "mark": {"type": "area", "interpolate": "linear", "fill": "#000000", "stroke": "#000000", "strokeWidth": 1, "clip": true},
   "encoding": {
    "x": {"field": "year", "type": "quantitative", "scale": {"domain": [1950, 2097.2], "nice": false, "zero": false},
          "axis": {"orient": "top", "values": [1960, 1980, 2000, 2020, 2040, 2060, 2080], "labels": false, "grid": false, "tickSize": -6, "title": null}},
    "y": {"field": "klo", "type": "quantitative", "scale": {"domain": [0, 110], "nice": false, "zero": false},
          "axis": {"orient": "right", "values": [0, 5, 10, 15, 20, 25, 30, 35, 40, 45, 50, 55, 60, 65, 70, 75, 80, 85, 90, 95, 100, 105], "labels": false, "ticks": false, "domain": false, "grid": true, "gridDash": [1, 3], "gridColor": "#c0c0c0", "title": null}},
    "y2": {"field": "khi"}}},
  {"data": {"name": "fut"}, "transform": [{"filter": "datum.panel == 'Tmin'"}],
   "mark": {"type": "area", "interpolate": "linear", "fill": "#00ff00", "stroke": "#33b833", "strokeWidth": 1, "clip": true},
   "encoding": {"x": {"field": "year", "type": "quantitative", "axis": null}, "y": {"field": "glo", "type": "quantitative", "axis": null}, "y2": {"field": "ghi"}}},
  {"data": {"name": "fut"}, "transform": [{"filter": "datum.panel == 'Tmin'"}],
   "mark": {"type": "area", "interpolate": "linear", "fill": "#0000ff", "stroke": "#000070", "strokeWidth": 1, "clip": true},
   "encoding": {"x": {"field": "year", "type": "quantitative", "axis": null}, "y": {"field": "blo", "type": "quantitative", "axis": null}, "y2": {"field": "bhi"}}},
  {"data": {"name": "hist"}, "transform": [{"filter": "datum.panel == 'Tmin'"}],
   "mark": {"type": "line", "interpolate": "step", "color": "#c41e24", "strokeWidth": 2, "clip": true},
   "encoding": {"x": {"field": "year", "type": "quantitative", "axis": null}, "y": {"field": "red", "type": "quantitative", "axis": null}}},
  {"data": {"name": "hist"}, "transform": [{"filter": "datum.panel == 'Tmin'"}],
   "mark": {"type": "line", "interpolate": "step", "color": "#000000", "strokeWidth": 2, "clip": true},
   "encoding": {"x": {"field": "year", "type": "quantitative", "axis": null}, "y": {"field": "black", "type": "quantitative", "axis": null}}},
  {"data": {"name": "hist"}, "transform": [{"filter": "datum.panel == 'Tmin'"}],
   "mark": {"type": "line", "interpolate": "step", "color": "#3cc43c", "strokeWidth": 2, "clip": true},
   "encoding": {"x": {"field": "year", "type": "quantitative", "axis": null}, "y": {"field": "green", "type": "quantitative", "axis": null}}},
  {"data": {"name": "hist"}, "transform": [{"filter": "datum.panel == 'Tmin'"}],
   "mark": {"type": "line", "interpolate": "step", "color": "#1c1c9c", "strokeWidth": 2, "clip": true},
   "encoding": {"x": {"field": "year", "type": "quantitative", "axis": null}, "y": {"field": "blue", "type": "quantitative", "axis": null}}}
 ]
},
{
 "title": {"text": "RCP45: Tmax", "fontSize": 26, "fontWeight": "bold", "font": "Liberation Sans", "color": "#1a1a1a", "anchor": "middle", "frame": "group", "offset": 12, "dx": 6},
 "width": 633, "height": 405,
 "resolve": {"axis": {"x": "independent", "y": "independent"}},
 "layer": [
  {"data": {"name": "fut"}, "transform": [{"filter": "datum.panel == 'Tmax'"}],
   "mark": {"type": "area", "interpolate": "linear", "fill": "#ff0000", "stroke": "#b40000", "strokeWidth": 1, "clip": true},
   "encoding": {
    "x": {"field": "year", "type": "quantitative", "scale": {"domain": [1950, 2097.2], "nice": false, "zero": false},
          "axis": {"orient": "bottom", "values": [1960, 1980, 2000, 2020, 2040, 2060, 2080], "format": "d", "grid": true, "gridDash": [1, 3], "gridColor": "#b4b4b4", "tickSize": -6, "labelPadding": 21, "title": null}},
    "y": {"field": "rlo", "type": "quantitative", "scale": {"domain": [0, 110], "nice": false, "zero": false},
          "axis": {"orient": "left", "values": [0, 20, 40, 60, 80, 100], "grid": false, "tickSize": -6, "labelPadding": 18, "title": "(deg F)", "titlePadding": 12}},
    "y2": {"field": "rhi"}}},
  {"data": {"name": "fut"}, "transform": [{"filter": "datum.panel == 'Tmax'"}],
   "mark": {"type": "area", "interpolate": "linear", "fill": "#000000", "stroke": "#000000", "strokeWidth": 1, "clip": true},
   "encoding": {
    "x": {"field": "year", "type": "quantitative", "scale": {"domain": [1950, 2097.2], "nice": false, "zero": false},
          "axis": {"orient": "top", "values": [1960, 1980, 2000, 2020, 2040, 2060, 2080], "labels": false, "grid": false, "tickSize": -6, "title": null}},
    "y": {"field": "klo", "type": "quantitative", "scale": {"domain": [0, 110], "nice": false, "zero": false},
          "axis": {"orient": "right", "values": [0, 5, 10, 15, 20, 25, 30, 35, 40, 45, 50, 55, 60, 65, 70, 75, 80, 85, 90, 95, 100, 105], "labels": false, "ticks": false, "domain": false, "grid": true, "gridDash": [1, 3], "gridColor": "#c0c0c0", "title": null}},
    "y2": {"field": "khi"}}},
  {"data": {"name": "fut"}, "transform": [{"filter": "datum.panel == 'Tmax'"}],
   "mark": {"type": "area", "interpolate": "linear", "fill": "#00ff00", "stroke": "#33b833", "strokeWidth": 1, "clip": true},
   "encoding": {"x": {"field": "year", "type": "quantitative", "axis": null}, "y": {"field": "glo", "type": "quantitative", "axis": null}, "y2": {"field": "ghi"}}},
  {"data": {"name": "fut"}, "transform": [{"filter": "datum.panel == 'Tmax'"}],
   "mark": {"type": "area", "interpolate": "linear", "fill": "#0000ff", "stroke": "#000070", "strokeWidth": 1, "clip": true},
   "encoding": {"x": {"field": "year", "type": "quantitative", "axis": null}, "y": {"field": "blo", "type": "quantitative", "axis": null}, "y2": {"field": "bhi"}}},
  {"data": {"name": "hist"}, "transform": [{"filter": "datum.panel == 'Tmax'"}],
   "mark": {"type": "line", "interpolate": "step", "color": "#c41e24", "strokeWidth": 2, "clip": true},
   "encoding": {"x": {"field": "year", "type": "quantitative", "axis": null}, "y": {"field": "red", "type": "quantitative", "axis": null}}},
  {"data": {"name": "hist"}, "transform": [{"filter": "datum.panel == 'Tmax'"}],
   "mark": {"type": "line", "interpolate": "step", "color": "#000000", "strokeWidth": 2, "clip": true},
   "encoding": {"x": {"field": "year", "type": "quantitative", "axis": null}, "y": {"field": "black", "type": "quantitative", "axis": null}}},
  {"data": {"name": "hist"}, "transform": [{"filter": "datum.panel == 'Tmax'"}],
   "mark": {"type": "line", "interpolate": "step", "color": "#3cc43c", "strokeWidth": 2, "clip": true},
   "encoding": {"x": {"field": "year", "type": "quantitative", "axis": null}, "y": {"field": "green", "type": "quantitative", "axis": null}}},
  {"data": {"name": "hist"}, "transform": [{"filter": "datum.panel == 'Tmax'"}],
   "mark": {"type": "line", "interpolate": "step", "color": "#1c1c9c", "strokeWidth": 2, "clip": true},
   "encoding": {"x": {"field": "year", "type": "quantitative", "axis": null}, "y": {"field": "blue", "type": "quantitative", "axis": null}}}
 ]
}
]
}
